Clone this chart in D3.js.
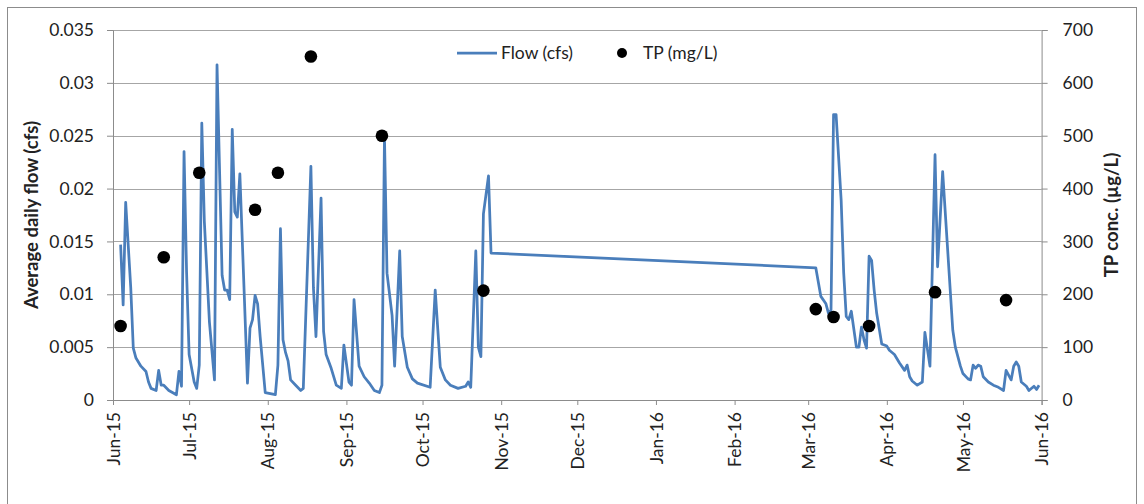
<!DOCTYPE html>
<html>
<head>
<meta charset="utf-8">
<script src="https://cdn.jsdelivr.net/npm/d3@7"></script>
<style>
  body { margin: 0; background: #fff; }
  svg text { font-family: Lato, "Open Sans", sans-serif; fill: #222; }
</style>
</head>
<body>
<div id="chart"></div>
<script>
// Daily flow readings (cfs)
var flowDates = [
  "2015-06-04","2015-06-05","2015-06-06","2015-06-08","2015-06-09","2015-06-10","2015-06-12","2015-06-14","2015-06-15","2015-06-16",
  "2015-06-18","2015-06-19","2015-06-20","2015-06-21","2015-06-23","2015-06-26","2015-06-27","2015-06-28","2015-06-29","2015-06-30",
  "2015-07-01","2015-07-03","2015-07-04","2015-07-05","2015-07-06","2015-07-07","2015-07-09","2015-07-11","2015-07-12","2015-07-14",
  "2015-07-15","2015-07-16","2015-07-17","2015-07-18","2015-07-19","2015-07-20","2015-07-21","2015-07-24","2015-07-25","2015-07-26",
  "2015-07-27","2015-07-28","2015-07-29","2015-07-31",
  "2015-08-04","2015-08-05","2015-08-06","2015-08-07","2015-08-08","2015-08-09","2015-08-10","2015-08-12","2015-08-14","2015-08-15",
  "2015-08-18","2015-08-19","2015-08-20","2015-08-22","2015-08-23","2015-08-24","2015-08-26","2015-08-28","2015-08-30","2015-08-31",
  "2015-09-02","2015-09-03","2015-09-04","2015-09-06","2015-09-08","2015-09-10","2015-09-12","2015-09-14","2015-09-15","2015-09-16",
  "2015-09-17","2015-09-19","2015-09-20","2015-09-22","2015-09-23","2015-09-25","2015-09-27","2015-09-29",
  "2015-10-04","2015-10-06","2015-10-08","2015-10-10","2015-10-12","2015-10-15","2015-10-18","2015-10-19","2015-10-20","2015-10-22",
  "2015-10-23","2015-10-24","2015-10-25","2015-10-27","2015-10-28",
  "2016-03-04","2016-03-06","2016-03-08","2016-03-09","2016-03-10","2016-03-11","2016-03-12","2016-03-14","2016-03-15","2016-03-16",
  "2016-03-17","2016-03-18","2016-03-20","2016-03-21","2016-03-22","2016-03-23","2016-03-24","2016-03-25","2016-03-26","2016-03-27",
  "2016-03-28","2016-03-30",
  "2016-04-01","2016-04-02","2016-04-04","2016-04-06","2016-04-08","2016-04-09","2016-04-10","2016-04-11","2016-04-13","2016-04-15",
  "2016-04-16","2016-04-18","2016-04-20","2016-04-21","2016-04-23","2016-04-27","2016-04-28","2016-04-30",
  "2016-05-01","2016-05-03","2016-05-04","2016-05-05","2016-05-06","2016-05-07","2016-05-08","2016-05-09","2016-05-11","2016-05-13",
  "2016-05-15","2016-05-17","2016-05-18","2016-05-20","2016-05-21","2016-05-22","2016-05-23","2016-05-24","2016-05-26","2016-05-27",
  "2016-05-29","2016-05-30","2016-05-31"
];
var flowValues = [
  0.0147,0.0090,0.0187,0.0106,0.0049,0.0040,0.0032,0.0027,0.0017,0.0011,
  0.0009,0.0028,0.0014,0.0014,0.0009,0.0005,0.0027,0.0013,0.0235,0.0121,
  0.0043,0.0017,0.0011,0.0033,0.0262,0.0169,0.0074,0.0019,0.0317,0.0118,
  0.0104,0.0104,0.0095,0.0256,0.0178,0.0173,0.0214,0.0016,0.0068,0.0076,
  0.0099,0.0091,0.0060,0.0007,
  0.0005,0.0033,0.0162,0.0057,0.0045,0.0037,0.0019,0.0014,0.0009,0.0011,
  0.0221,0.0106,0.0060,0.0191,0.0065,0.0043,0.0030,0.0014,0.0011,0.0052,
  0.0017,0.0014,0.0095,0.0032,0.0022,0.0016,0.0009,0.0007,0.0014,0.0249,
  0.0120,0.0080,0.0032,0.0141,0.0060,0.0031,0.0020,0.0016,
  0.0012,0.0104,0.0031,0.0019,0.0014,0.0011,0.0013,0.0017,0.0012,0.0141,
  0.0050,0.0041,0.0176,0.0212,0.0139,
  0.0125,0.0098,0.0091,0.0082,0.0085,0.0270,0.0270,0.0189,0.0120,0.0079,
  0.0076,0.0084,0.0050,0.0050,0.0069,0.0057,0.0049,0.0136,0.0132,0.0104,
  0.0082,0.0053,
  0.0051,0.0047,0.0043,0.0035,0.0028,0.0033,0.0022,0.0018,0.0014,0.0017,
  0.0064,0.0032,0.0232,0.0126,0.0216,0.0066,0.0050,0.0032,
  0.0025,0.0020,0.0019,0.0033,0.0030,0.0033,0.0032,0.0022,0.0017,0.0014,
  0.0012,0.0009,0.0028,0.0019,0.0032,0.0036,0.0032,0.0017,0.0013,0.0009,
  0.0013,0.0010,0.0014
];

// TP samples (ug/L)
var tpDates = ["2015-06-04","2015-06-21","2015-07-05","2015-07-27","2015-08-05","2015-08-18","2015-09-15",
               "2015-10-25","2016-03-04","2016-03-11","2016-03-25","2016-04-20","2016-05-18"];
var tpValues = [140, 270, 430, 360, 430, 650, 500, 207, 172, 157, 140, 204, 189];

var flowTicks = [0, 0.005, 0.01, 0.015, 0.02, 0.025, 0.03, 0.035];
var tpTicks   = [0, 100, 200, 300, 400, 500, 600, 700];

var chart_width  = 1144;
var chart_height = 504;
var plot = {left: 113, right: 1041.6, top: 30, bottom: 400};
var blue = "#4a7ebb";

var parse = d3.timeParse("%Y-%m-%d");
var flow = flowDates.map(function(d, i){ return {date: parse(d), v: flowValues[i]}; });
var tp   = tpDates.map(function(d, i){ return {date: parse(d), v: tpValues[i]}; });

var x = d3.scaleTime()
    .domain([new Date(2015, 5, 1), new Date(2016, 5, 1)])
    .range([plot.left, plot.right]);
var yFlow = d3.scaleLinear().domain([0, 0.035]).range([plot.bottom, plot.top]);
var yTP   = d3.scaleLinear().domain([0, 700]).range([plot.bottom, plot.top]);

var svg = d3.select("#chart")
    .append("svg")
    .attr("width", chart_width)
    .attr("height", chart_height);

// chart border
svg.append("rect")
    .attr("x", 7.5).attr("y", 7.5)
    .attr("width", 1129).attr("height", 520)
    .attr("fill", "none")
    .attr("stroke", "#8c8c8c");

// gridlines
svg.append("g")
    .selectAll("line")
    .data(flowTicks.slice(1))
    .enter()
    .append("line")
    .attr("x1", plot.left).attr("x2", plot.right)
    .attr("y1", function(d){ return Math.round(yFlow(d)) + 0.5; })
    .attr("y2", function(d){ return Math.round(yFlow(d)) + 0.5; })
    .attr("stroke", "#a6a6a6");

// left axis
var leftAxis = svg.append("g")
    .attr("transform", "translate(" + plot.left + ",0)")
    .call(d3.axisLeft(yFlow).tickValues(flowTicks).tickSize(6).tickPadding(13)
        .tickFormat(function(d){ return d === 0 ? "0" : String(+d.toFixed(3)); }));

// right axis
var rightAxis = svg.append("g")
    .attr("transform", "translate(" + plot.right + ",0)")
    .call(d3.axisRight(yTP).tickValues(tpTicks).tickSize(6).tickPadding(15));

// bottom axis
var bottomAxis = svg.append("g")
    .attr("transform", "translate(0," + plot.bottom + ")")
    .call(d3.axisBottom(x).ticks(d3.timeMonth.every(1)).tickSize(5).tickFormat(d3.timeFormat("%b-%y")));
bottomAxis.selectAll("text")
    .attr("transform", "rotate(-90)")
    .attr("text-anchor", "end")
    .attr("x", -12)
    .attr("y", 0)
    .attr("dy", "0.35em");

[leftAxis, rightAxis, bottomAxis].forEach(function(g){
    g.select(".domain").attr("stroke", "#8c8c8c");
    g.selectAll(".tick line").attr("stroke", "#8c8c8c");
    g.selectAll("text").style("font-size", "17.5px").attr("fill", "#222");
});

// axis titles
svg.append("text")
    .attr("transform", "translate(32," + (plot.top + plot.bottom) / 2 + ") rotate(-90)")
    .attr("text-anchor", "middle")
    .attr("dy", "0.35em")
    .style("font-size", "18.5px")
    .style("font-weight", "bold")
    .text("Average daily flow (cfs)");

svg.append("text")
    .attr("transform", "translate(1112," + (plot.top + plot.bottom) / 2 + ") rotate(-90)")
    .attr("text-anchor", "middle")
    .attr("dy", "0.35em")
    .style("font-size", "18.5px")
    .style("font-weight", "bold")
    .text("TP conc. (\u00b5g/L)");

// flow line
var line = d3.line()
    .x(function(d){ return x(d.date); })
    .y(function(d){ return yFlow(d.v); });

svg.append("path")
    .datum(flow)
    .attr("d", line)
    .attr("fill", "none")
    .attr("stroke", blue)
    .attr("stroke-width", 2.75)
    .attr("stroke-linejoin", "round");

// TP points
svg.selectAll("circle.tp")
    .data(tp)
    .enter()
    .append("circle")
    .attr("class", "tp")
    .attr("cx", function(d){ return x(d.date); })
    .attr("cy", function(d){ return yTP(d.v); })
    .attr("r", 6.3)
    .attr("fill", "#000");

// legend
var legend = svg.append("g");
legend.append("line")
    .attr("x1", 457).attr("x2", 497).attr("y1", 53).attr("y2", 53)
    .attr("stroke", blue).attr("stroke-width", 2.75);
legend.append("text")
    .attr("x", 501).attr("y", 53).attr("dy", "0.35em")
    .style("font-size", "17.5px")
    .text("Flow (cfs)");
legend.append("circle")
    .attr("cx", 622).attr("cy", 53).attr("r", 5)
    .attr("fill", "#000");
legend.append("text")
    .attr("x", 643).attr("y", 53).attr("dy", "0.35em")
    .style("font-size", "17.5px")
    .text("TP (mg/L)");
</script>
</body>
</html>
